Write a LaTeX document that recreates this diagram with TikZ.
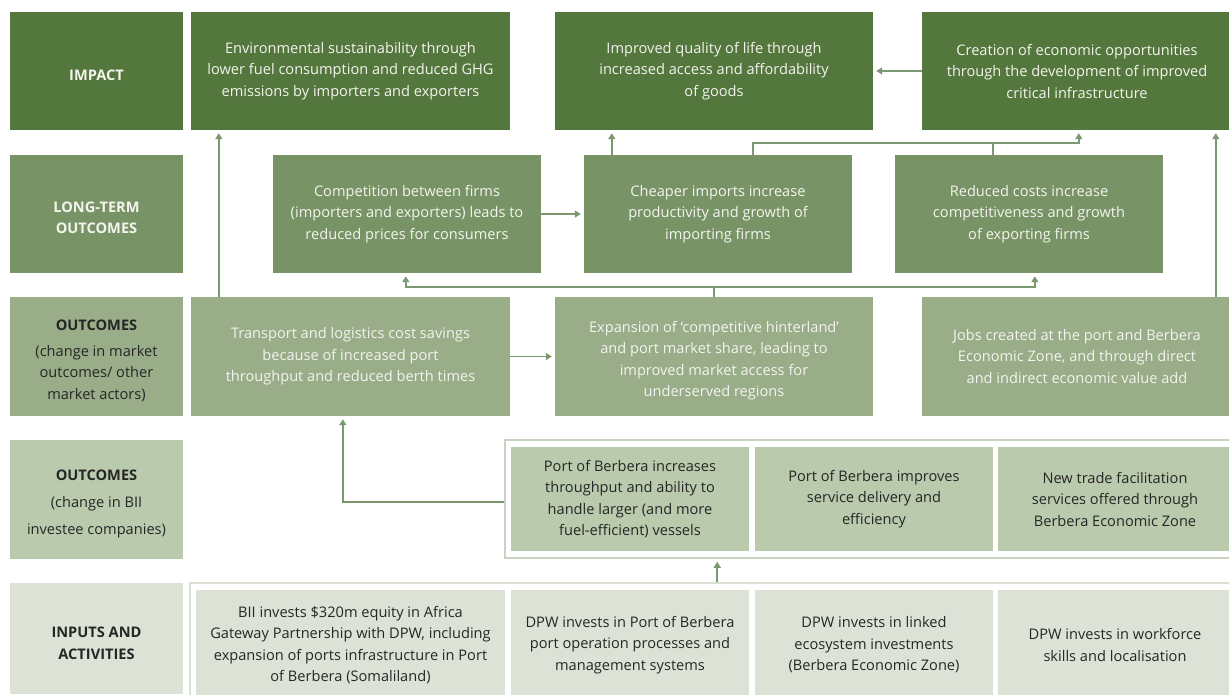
\documentclass[tikz,border=0pt]{standalone}
\usepackage{fontspec}
\setmainfont{Open Sans}
\usetikzlibrary{arrows.meta}
\definecolor{cImpact}{HTML}{53773D}
\definecolor{cLong}{HTML}{789466}
\definecolor{cOut}{HTML}{98AD88}
\definecolor{cBii}{HTML}{B9CAAD}
\definecolor{cIn}{HTML}{DCE3D6}
\definecolor{cLine}{HTML}{7C9870}
\definecolor{cFrame}{HTML}{C9D3C1}
\definecolor{cLight}{HTML}{F4F4EE}
\definecolor{cDark}{HTML}{262626}
\tikzset{
  box/.style={rectangle, inner sep=0pt, align=center, font=\fontsize{14.6}{21.5}\selectfont},
  impact/.style={box, fill=cImpact, text=cLight},
  longt/.style={box, fill=cLong, text=cLight},
  outc/.style={box, fill=cOut, text=cLight},
  outlab/.style={box, fill=cOut, text=cDark},
  bii/.style={box, fill=cBii, text=cDark},
  inp/.style={box, fill=cIn, text=cDark},
  labtext/.style={box, yshift=-4pt},
  frame/.style={rectangle, inner sep=0pt, draw=cFrame, line width=1.5pt},
  conn/.style={draw=cLine, line width=1.8pt},
  arr/.style={conn, -{Triangle[width=7pt,length=6pt]}, shorten >=3pt},
}
\newcommand\bx[7]{\node[#6, minimum width={(#4-#2)*1pt}, minimum height={(#5-#3)*1pt}] (#1) at ({(#2+#4)/2},{(#3+#5)/2}) {#7};}
\begin{document}
\begin{tikzpicture}[x=1pt,y=-1pt]
\useasboundingbox (0,0) rectangle (1229,694);
\fill[white] (0,0) rectangle (1229,694);
% row 1
\bx{l1}{10}{12}{183}{130}{impact}{}
\node[labtext, text=cLight] (l1t) at (l1) {\textbf{IMPACT}};
\bx{env}{191}{12}{510}{130}{impact}{Environmental sustainability through\\lower fuel consumption and reduced GHG\\emissions by importers and exporters}
\bx{impr}{555}{12}{873}{130}{impact}{Improved quality of life through\\increased access and affordability\\of goods}
\bx{creat}{922}{12}{1232}{130}{impact}{Creation of economic opportunities\\through the development of improved\\critical infrastructure}
% row 2
\bx{l2}{10}{155}{183}{273}{longt}{}
\node[labtext, text=cLight] (l2t) at (l2) {\textbf{LONG-TERM}\\\textbf{OUTCOMES}};
\bx{comp}{273}{155}{541}{273}{longt}{Competition between firms\\(importers and exporters) leads to\\reduced prices for consumers}
\bx{cheap}{584}{155}{852}{273}{longt}{Cheaper imports increase\\productivity and growth of\\importing firms}
\bx{red}{895}{155}{1163}{273}{longt}{Reduced costs increase\\competitiveness and growth\\of exporting firms}
% row 3
\bx{l3}{10}{297}{183}{416}{outlab}{}
\node[labtext, text=cDark] (l3t) at (l3) {\textbf{OUTCOMES}\\[4.5pt](change in market\\outcomes/ other\\market actors)};
\bx{trans}{191}{297}{510}{416}{outc}{Transport and logistics cost savings\\because of increased port\\throughput and reduced berth times}
\bx{exp}{555}{297}{873}{416}{outc}{}
\node[labtext, text=cLight] (expt) at (exp) {Expansion of ‘competitive hinterland’\\and port market share, leading to\\improved market access for\\underserved regions};
\bx{jobs}{922}{297}{1232}{416}{outc}{Jobs created at the port and Berbera\\Economic Zone, and through direct\\and indirect economic value add}
% row 4
\bx{l4}{10}{440}{183}{559}{bii}{}
\node[labtext, text=cDark] (l4t) at (l4) {\textbf{OUTCOMES}\\[5.5pt](change in BII\\[5.5pt]investee companies)};
\node[frame, minimum width=730pt, minimum height=118pt] (f4) at ({(505+1235)/2},{(440+558)/2}) {};
\bx{pinc}{511}{447}{749}{551}{bii}{Port of Berbera increases\\throughput and ability to\\handle larger (and more\\fuel-efficient) vessels}
\bx{pimp}{755}{447}{993}{551}{bii}{Port of Berbera improves\\service delivery and\\efficiency}
\bx{ntf}{998}{447}{1232}{551}{bii}{New trade facilitation\\services offered through\\Berbera Economic Zone}
% row 5
\bx{l5}{10}{583}{183}{694}{inp}{}
\node[labtext, text=cDark, yshift=-1pt] (l5t) at (l5) {\textbf{INPUTS AND}\\\textbf{ACTIVITIES}};
\node[frame, draw=cIn!80!cFrame, minimum width=1045pt, minimum height=120pt] (f5) at ({(190+1235)/2},{(583+703)/2}) {};
\bx{bii1}{196}{590}{505}{700}{inp}{BII invests \$320m equity in Africa\\Gateway Partnership with DPW, including\\expansion of ports infrastructure in Port\\of Berbera (Somaliland)}
\bx{dpw1}{511}{590}{749}{700}{inp}{DPW invests in Port of Berbera\\port operation processes and\\management systems}
\bx{dpw2}{755}{590}{993}{700}{inp}{DPW invests in linked\\ecosystem investments\\(Berbera Economic Zone)}
\bx{dpw3}{998}{590}{1232}{700}{inp}{DPW invests in workforce\\skills and localisation}
% connectors
\draw[arr] ([xshift=28pt]trans.north west) -- ([xshift=28pt]env.south west);
\draw[arr] (trans.east) -- (exp.west);
\draw[arr] (comp.east) -- (cheap.west);
\draw[arr] ([xshift=28pt]cheap.north west) -- ([xshift=57pt]impr.south west);
\draw[arr] ([xshift=169pt]cheap.north west) |- ([xshift=157pt,yshift=-13pt]creat.south west) -- ([xshift=157pt]creat.south west);
\draw[conn] ([xshift=98pt]red.north west) -- ++(0,-12);
\draw[arr] (creat.west) -- (impr.east);
\draw[arr] ([xshift=159pt]exp.north west) -- ++(0,-10) -| ([xshift=133pt]comp.south west);
\draw[arr] ([xshift=159pt]exp.north west) -- ++(0,-10) -| ([xshift=140pt]red.south west);
\draw[arr] ([xshift=294pt]jobs.north west) -- ([xshift=294pt]creat.south west);
\draw[arr] ([yshift=-3pt]f4.west) -| ([xshift=152pt]trans.south west);
\draw[arr] ([xshift=528pt]f5.north west) -- ([xshift=213pt]f4.south west);
\end{tikzpicture}
\end{document}
